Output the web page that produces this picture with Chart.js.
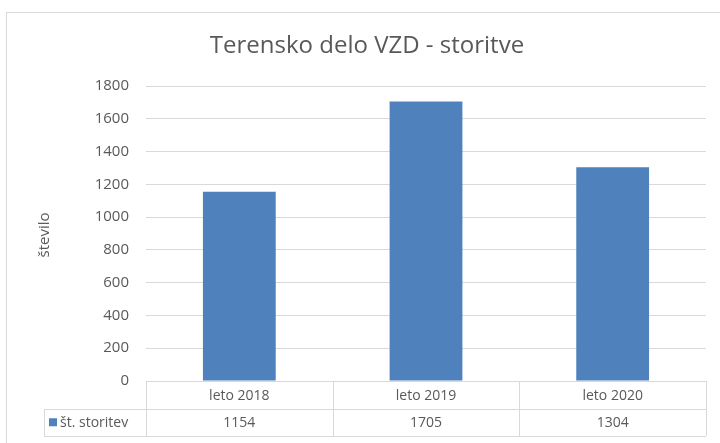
<!DOCTYPE html>
<html>
<head>
<meta charset="utf-8">
<script src="https://cdn.jsdelivr.net/npm/chart.js@4"></script>
<style>
  html, body { margin: 0; padding: 0; background: #fff; }
  #wrap { width: 720px; height: 443px; position: relative; }
</style>
</head>
<body>
<div id="wrap"><canvas id="chart" width="720" height="443"></canvas></div>
<script>
// podatki
const categories = ['leto 2018', 'leto 2019', 'leto 2020'];
const seriesName = 'št. storitev';
const values = [1154, 1705, 1304];
const yTicks = [0, 200, 400, 600, 800, 1000, 1200, 1400, 1600, 1800];

const chartTitle = 'Terensko delo VZD - storitve';
const yTitle = 'število';

const textColor = '#595959';
const lineColor = '#d9d9d9';
const barColor = '#4f81bd';
const fontName = '"Open Sans", "Noto Sans", sans-serif';

// naslov, okvir in podatkovna tabela pod grafom
const excelPlugin = {
    id: 'excelTable',
    afterDraw(chart) {
        const c = chart.ctx;
        const area = chart.chartArea;
        c.save();

        // okvir grafa
        c.strokeStyle = lineColor;
        c.lineWidth = 1;
        c.strokeRect(6.5, 12.5, 740, 460);

        // naslov
        c.fillStyle = textColor;
        c.font = '24px ' + fontName;
        c.textAlign = 'center';
        c.textBaseline = 'middle';
        c.fillText(chartTitle, 367, 46);

        // naslov osi y
        c.save();
        c.translate(45, 235);
        c.rotate(-Math.PI / 2);
        c.font = '15px ' + fontName;
        c.fillText(yTitle, 0, 0);
        c.restore();

        // tabela
        const n = categories.length;
        const colW = (area.right - area.left) / n;
        const top = area.bottom;
        const rowH = 27.5;
        const legLeft = 44;

        c.strokeStyle = lineColor;
        c.beginPath();
        // vodoravne črte
        c.moveTo(area.left, top + 0.5);
        c.lineTo(area.right, top + 0.5);
        c.moveTo(legLeft, Math.round(top + rowH) + 0.5);
        c.lineTo(area.right, Math.round(top + rowH) + 0.5);
        c.moveTo(legLeft, Math.round(top + 2 * rowH) + 0.5);
        c.lineTo(area.right, Math.round(top + 2 * rowH) + 0.5);
        // navpične črte
        for (let i = 0; i <= n; i++) {
            const x = Math.round(area.left + i * colW) + 0.5;
            c.moveTo(x, top);
            c.lineTo(x, top + 2 * rowH);
        }
        c.moveTo(legLeft + 0.5, Math.round(top + rowH));
        c.lineTo(legLeft + 0.5, Math.round(top + 2 * rowH));
        c.stroke();

        c.fillStyle = textColor;
        c.font = '14px ' + fontName;
        c.textAlign = 'center';
        for (let i = 0; i < n; i++) {
            const cx = area.left + (i + 0.5) * colW;
            c.fillText(categories[i], cx, top + rowH / 2 + 1);
            c.fillText(String(values[i]), cx, top + rowH * 1.5 + 1);
        }

        // legenda v tabeli
        c.fillStyle = barColor;
        c.fillRect(legLeft + 5, top + rowH * 1.5 - 4, 8, 8);
        c.fillStyle = textColor;
        c.textAlign = 'left';
        c.fillText(seriesName, legLeft + 16, top + rowH * 1.5 + 1);

        c.restore();
    }
};

new Chart(document.getElementById('chart'), {
    type: 'bar',
    data: {
        labels: categories,
        datasets: [{
            label: seriesName,
            data: values,
            backgroundColor: barColor,
            borderWidth: 0,
            categoryPercentage: 1,
            barPercentage: 0.39
        }]
    },
    options: {
        responsive: false,
        animation: false,
        layout: {
            padding: { left: 0, right: 14, top: 86, bottom: 62 }
        },
        plugins: {
            legend: { display: false },
            title: { display: false },
            tooltip: { enabled: false }
        },
        scales: {
            x: {
                display: false
            },
            y: {
                min: 0,
                max: 1800,
                afterBuildTicks: function(scale) {
                    scale.ticks = yTicks.map(v => ({ value: v }));
                },
                afterFit: function(scale) {
                    scale.width = 146;
                },
                border: { display: false },
                grid: {
                    color: lineColor,
                    drawTicks: false
                },
                ticks: {
                    padding: 17,
                    color: textColor,
                    font: { family: fontName, size: 15 },
                    callback: function(value) {
                        return String(value);
                    }
                }
            }
        }
    },
    plugins: [excelPlugin]
});
</script>
</body>
</html>
